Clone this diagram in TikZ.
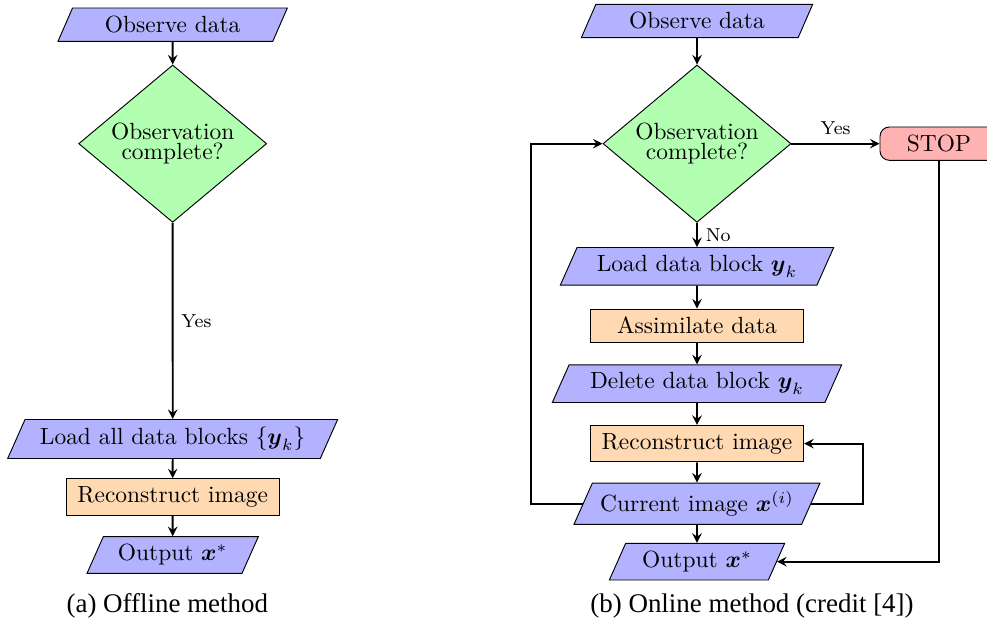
\documentclass[tikz,border=0pt]{standalone}
\usepackage{amsmath, amssymb}
\usepackage{fontspec}
\newfontfamily\capfont{Liberation Serif}
\usepackage{xcolor}
\usepackage{tikz}
\usetikzlibrary{shapes.geometric, arrows, positioning, calc}

\begin{document}
\begin{tikzpicture}[node distance=0.87cm]
			\tikzstyle{io} = [trapezium, trapezium left angle=66, trapezium right angle=114, trapezium stretches body, minimum height=0.5cm, align=center, draw=black, fill=blue!30]
			\tikzstyle{process} = [rectangle, minimum width=3.2cm, minimum height=0.5cm, align=center, draw=black, fill=orange!30]
			\tikzstyle{decision} = [diamond, aspect=1.2, inner sep=0pt, minimum width=2.82cm, minimum height=2.36cm, align=center, draw=black, fill=green!30]
			\tikzstyle{stopbox} = [rectangle, rounded corners, minimum width=1.77cm, minimum height=0.5cm, align=center, draw=black, fill=red!30]
			\tikzstyle{arrow} = [thick,->,>=stealth]
			\tikzstyle{caption} = [font=\capfont\fontsize{11.5}{13}\selectfont]
			
			\useasboundingbox (0,0) rectangle (14.805,-9.33);
			
			% (a) Offline
			\node (obsA) [io, minimum width=3.44cm] at (2.59,-0.37) {Observe data};
			\node (decA) [decision, below of=obsA, yshift=-0.915cm] {Observation\\[-3.5pt]complete?};
			\node (loadA) [io, minimum width=4.95cm, below of=decA, yshift=-3.56cm] {Load all data blocks $\{\boldsymbol{y}_k\}$};
			\node (recA) [process, below of=loadA] {Reconstruct image};
			\node (outA) [io, minimum width=2.57cm, below of=recA] {Output $\boldsymbol{x}^*$};
			
			\draw [arrow] (obsA) -- (decA);
			\draw [arrow] (decA) -- node[right, font=\footnotesize] {Yes} (loadA);
			\draw [arrow] (loadA) -- (recA);
			\draw [arrow] (recA) -- (outA);
			
			% (b) Online
			\node (obsB) [io, minimum width=3.47cm] at (10.455,-0.315) {Observe data};
			\node (decB) [decision, below of=obsB, yshift=-0.97cm] {Observation\\[-3.5pt]complete?};
			\node (stop) [stopbox, right of=decB, xshift=2.76cm] {STOP};
			\node (loadB) [io, minimum width=4.1cm, below of=decB, yshift=-0.97cm] {Load data block $\boldsymbol{y}_k$};
			\node (assimB) [process, below of=loadB, yshift=-0.02cm] {Assimilate data};
			\node (delB) [io, minimum width=4.34cm, below of=assimB] {Delete data block $\boldsymbol{y}_k$};
			\node (recB) [process, below of=delB, yshift=-0.03cm] {Reconstruct image};
			\node (curB) [io, minimum width=3.69cm, below of=recB, yshift=-0.03cm] {Current image $\boldsymbol{x}^{(i)}$};
			\node (outB) [io, minimum width=2.63cm, below of=curB] {Output $\boldsymbol{x}^*$};
			
			\draw [arrow] (obsB) -- (decB);
			\draw [arrow] (decB) -- node[above, font=\footnotesize] {Yes} (stop);
			\draw [arrow] (decB) -- node[right, font=\footnotesize] {No} (loadB);
			\draw [arrow] (loadB) -- (assimB);
			\draw [arrow] (assimB) -- (delB);
			\draw [arrow] (delB) -- (recB);
			\draw [arrow] (recB) -- (curB);
			\draw [arrow] (curB) -- (outB);
			
			% Loops
			\draw [arrow] (curB.west) -- ++(-0.78,0) |- (decB.west);
			\draw [arrow] (curB.east) -- ++(0.78,0) |- (recB.east);
			\draw [arrow] (stop.south) |- (outB.east);
			
			% Captions
			\node (capA) [caption] at (2.51,-9.09) {(a) Offline method};
			\node (capB) [caption] at (11.28,-9.09) {(b) Online method (credit [4])};
			
		\end{tikzpicture}
\end{document}
